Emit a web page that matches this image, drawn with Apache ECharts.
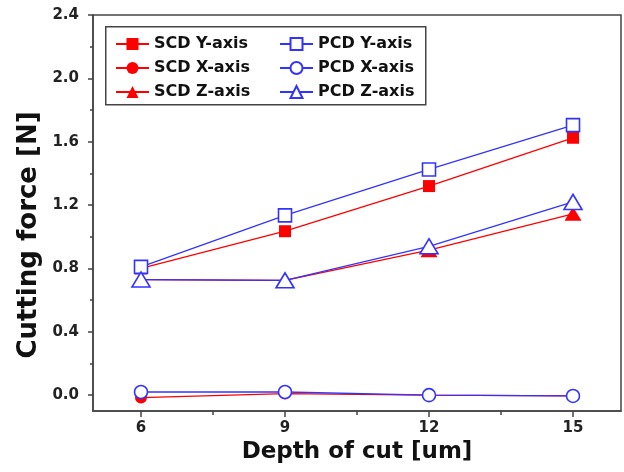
<!DOCTYPE html>
<html>
<head>
<meta charset="utf-8">
<script src="https://cdn.jsdelivr.net/npm/echarts@6/dist/echarts.min.js"></script>
<style>html,body{margin:0;padding:0;background:#fff}#c{width:624px;height:472px}</style>
</head>
<body>
<div id="c"></div>
<script>
var depth = [6, 9, 12, 15];
var scdY = [0.80, 1.035, 1.32, 1.625];
var scdX = [-0.015, 0.01, 0.0, -0.005];
var scdZ = [0.73, 0.725, 0.915, 1.145];
var pcdY = [0.81, 1.135, 1.425, 1.705];
var pcdX = [0.02, 0.02, 0.0, -0.005];
var pcdZ = [0.73, 0.725, 0.94, 1.22];
var xTicks = [6, 9, 12, 15];
var xMinorTicks = [7.5, 10.5, 13.5];
var yTicks = [0, 0.4, 0.8, 1.2, 1.6, 2.0, 2.4];
var yMinorTicks = [0.2, 0.6, 1.0, 1.4, 1.8, 2.2];

var RED = '#ff0000', BLUE = '#3333ff', AX = '#444';
var FONT = 'DejaVu Sans';

function pairs(ys) { return depth.map(function (d, i) { return [d, ys[i]]; }); }

function scd(name, ys, sym, size) {
  return {
    name: name, type: 'line', data: pairs(ys), xAxisIndex: 0, yAxisIndex: 0,
    symbol: sym, symbolSize: size,
    lineStyle: { color: RED, width: 1.3 },
    itemStyle: { color: RED, borderWidth: 0 },
    z: 2
  };
}
function pcd(name, ys, sym, size) {
  return {
    name: name, type: 'line', data: pairs(ys), xAxisIndex: 0, yAxisIndex: 0,
    symbol: sym, symbolSize: size,
    lineStyle: { color: BLUE, width: 1.3 },
    itemStyle: { color: '#fff', borderColor: BLUE, borderWidth: 1.6 },
    z: 3
  };
}

var legendCommon = {
  orient: 'vertical', itemWidth: 33, itemHeight: 15, itemGap: 0,
  textStyle: { fontFamily: FONT, fontWeight: 'bold', fontSize: 16, color: '#111', lineHeight: 24 },
  padding: 0, selectedMode: false
};

var chart = echarts.init(document.getElementById('c'), null, { renderer: 'canvas' });
chart.setOption({
  backgroundColor: '#fff',
  animation: false,
  grid: { left: 93, right: 3, top: 15, bottom: 61, show: true, borderColor: AX, borderWidth: 1.5, backgroundColor: 'transparent' },
  xAxis: [{
    type: 'value', min: 5, max: 16,
    name: 'Depth of cut [um]', nameLocation: 'middle', nameGap: 30,
    nameTextStyle: { fontFamily: FONT, fontWeight: 'bold', fontSize: 23, color: '#111' },
    axisLine: { show: true, onZero: false, lineStyle: { color: AX, width: 1.5 } },
    axisTick: { show: true, length: 6, lineStyle: { color: AX, width: 1.5 }, customValues: xTicks },
    axisLabel: { customValues: xTicks, fontFamily: FONT, fontWeight: 'bold', fontSize: 15, color: '#222', margin: 10 },
    splitLine: { show: false }
  }, {
    type: 'value', min: 5, max: 16, position: 'bottom',
    axisLine: { show: false, onZero: false },
    axisTick: { show: true, length: 4, lineStyle: { color: AX, width: 1.5 }, customValues: xMinorTicks },
    axisLabel: { show: false },
    splitLine: { show: false }
  }],
  yAxis: [{
    type: 'value', min: -0.1, max: 2.4,
    axisLine: { show: true, onZero: false, lineStyle: { color: AX, width: 1.5 } },
    axisTick: { show: true, length: 5, lineStyle: { color: AX, width: 1.5 }, customValues: yTicks },
    axisLabel: { customValues: yTicks, fontFamily: FONT, fontWeight: 'bold', fontSize: 15, color: '#222', margin: 14,
      formatter: function (v) { return v.toFixed(1); } },
    splitLine: { show: false }
  }, {
    type: 'value', min: -0.1, max: 2.4, position: 'left',
    axisLine: { show: false, onZero: false },
    axisTick: { show: true, length: 3, lineStyle: { color: AX, width: 1.5 }, customValues: yMinorTicks },
    axisLabel: { show: false },
    splitLine: { show: false }
  }],
  legend: [
    Object.assign({ left: 115, top: 32, data: ['SCD Y-axis', 'SCD X-axis', 'SCD Z-axis'] }, legendCommon),
    Object.assign({ left: 279, top: 32, data: ['PCD Y-axis', 'PCD X-axis', 'PCD Z-axis'] }, legendCommon)
  ],
  graphic: [
    { type: 'rect', left: 105, top: 26, shape: { width: 320, height: 78 }, style: { fill: 'transparent', stroke: AX, lineWidth: 1.5 }, z: 1 },
    { type: 'text', x: 29, y: 235, rotation: Math.PI / 2,
      style: { text: 'Cutting force [N]', font: 'bold 26px "DejaVu Sans"', fill: '#111', textAlign: 'center', textVerticalAlign: 'middle' } }
  ],
  series: [
    scd('SCD Y-axis', scdY, 'rect', 12),
    scd('SCD X-axis', scdX, 'circle', 12),
    scd('SCD Z-axis', scdZ, 'triangle', [17, 14]),
    pcd('PCD Y-axis', pcdY, 'rect', 13),
    pcd('PCD X-axis', pcdX, 'circle', 13),
    pcd('PCD Z-axis', pcdZ, 'triangle', [18, 15])
  ]
});
</script>
</body>
</html>
